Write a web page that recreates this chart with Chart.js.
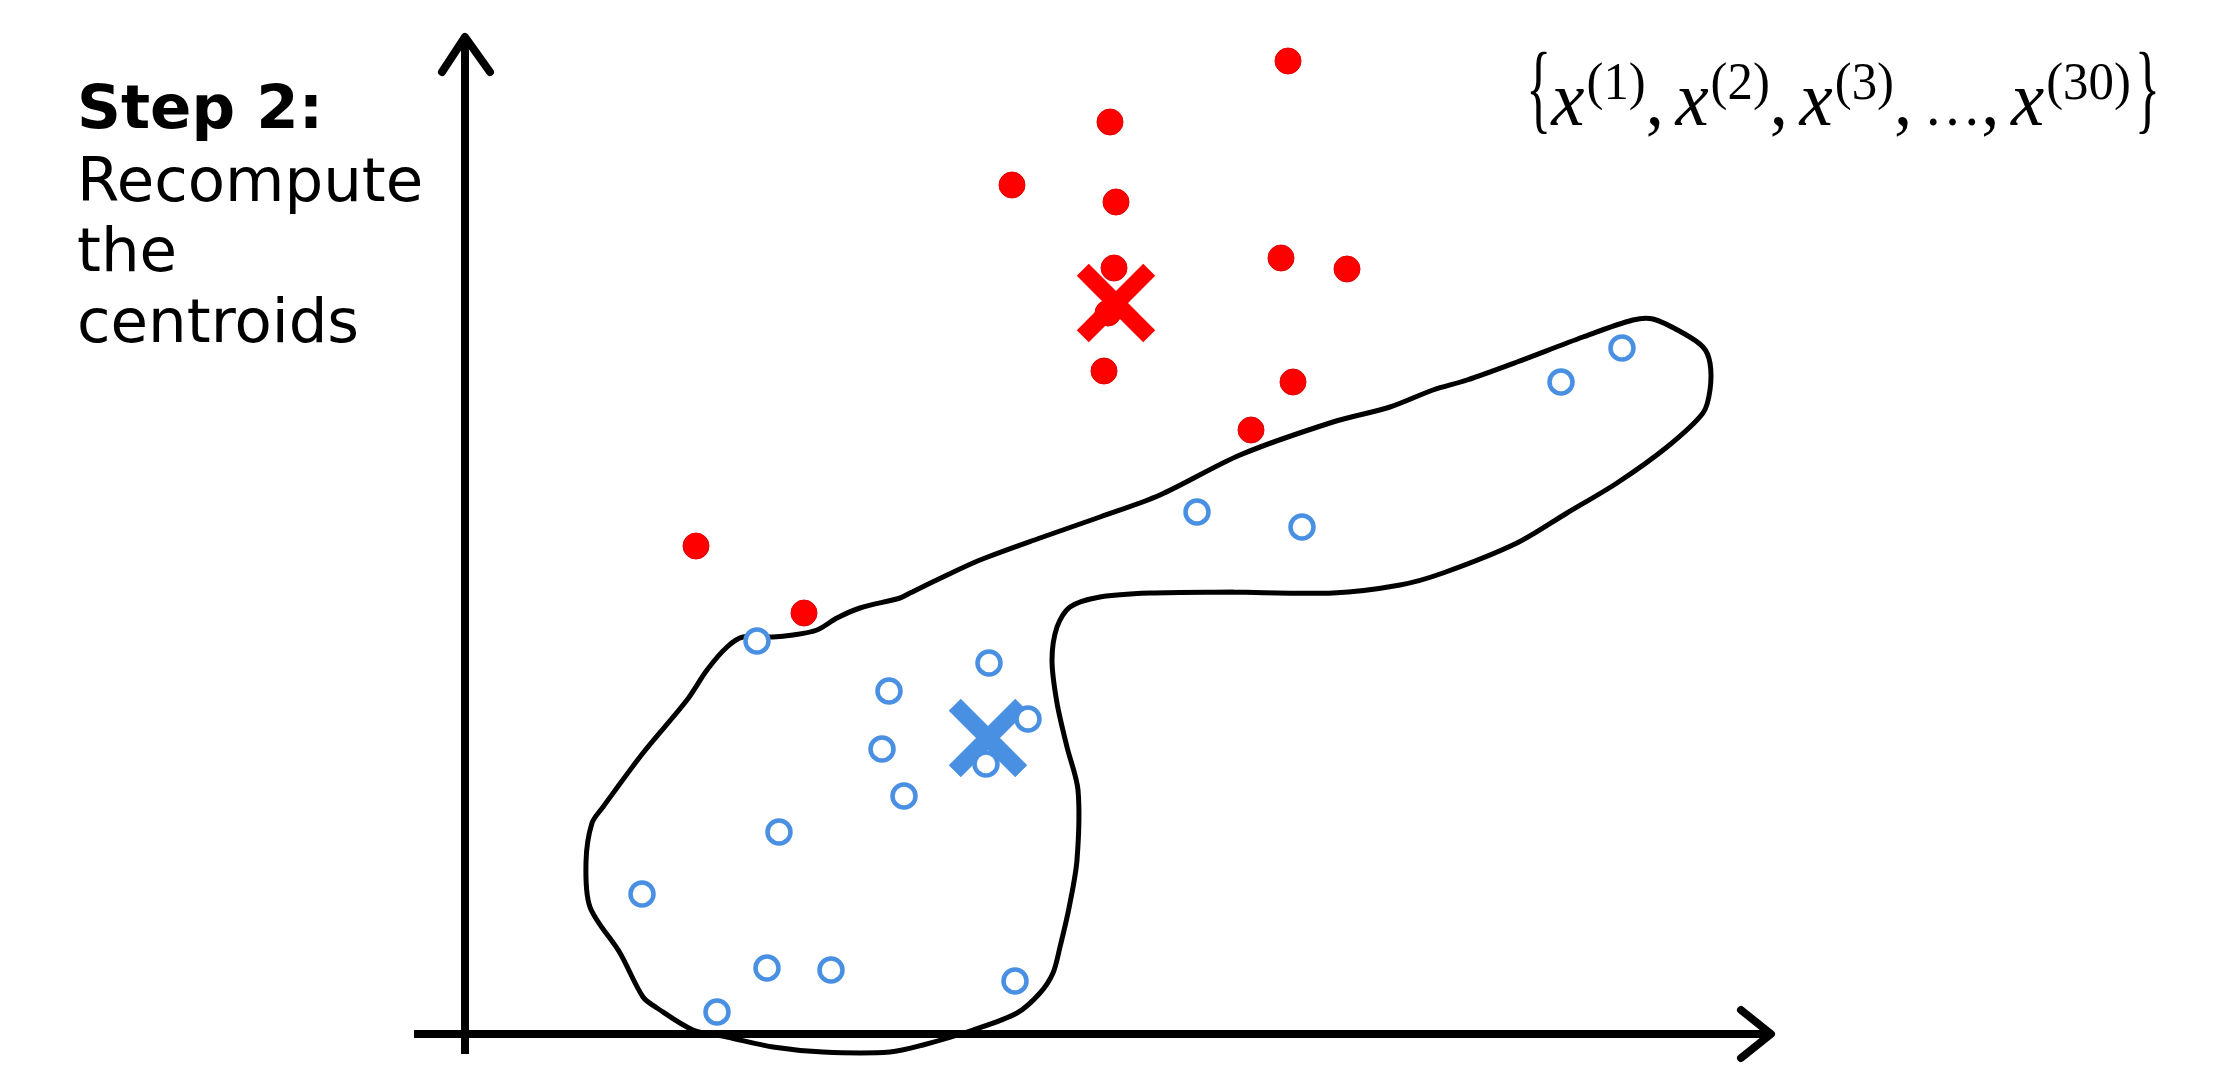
<!DOCTYPE html>
<html>
<head>
<meta charset="utf-8">
<title>K-means paso 2</title>
<script src="https://cdn.jsdelivr.net/npm/chart.js@4.4.0/dist/chart.umd.min.js"></script>
<style>
  body { margin: 0; background: #fff; }
  canvas { display: block; }
</style>
</head>
<body>
<canvas id="grafico" width="2240" height="1077"></canvas>
<script>
// puntos del grupo rojo (uno queda tapado por la X)
const rojoX = [8.23, 6.45, 5.47, 6.51, 6.49, 8.16, 8.82, 6.39, 8.28, 7.86, 2.31, 3.39, 6.43]
const rojoY = [9.73, 9.12, 8.49, 8.32, 7.66, 7.76, 7.65, 6.63, 6.52, 6.04, 4.88, 4.21, 7.21]

// puntos del grupo azul
const azulX = [11.57, 10.96, 7.32, 8.37, 2.92, 5.24, 4.24, 5.63, 4.17, 5.21, 4.39, 3.14, 1.77, 3.02, 3.66, 5.50, 2.52]
const azulY = [6.86, 6.52, 5.22, 5.07, 3.93, 3.71, 3.43, 3.15, 2.85, 2.70, 2.38, 2.02, 1.40, 0.66, 0.64, 0.53, 0.22]

// centroides
const centroRojo = [6.51, 7.31]
const centroAzul = [5.23, 2.96]

// contorno dibujado a mano alrededor del grupo azul (empieza y termina en el borde de abajo del brazo)
const contornoX = [7.68, 6.85, 6.35, 6.05, 5.92, 5.87, 5.92, 6.02, 6.13, 6.12, 6.04, 5.95, 5.88, 5.75, 5.52, 5.08, 4.58,
  4.25, 3.58, 3.08, 2.62, 2.28, 1.92, 1.78, 1.55, 1.25, 1.21, 1.27, 1.38, 1.78, 2.22, 2.42, 2.62, 2.78, 3.08, 3.28, 3.52,
  3.72, 3.95, 4.35, 4.45, 4.78, 5.15, 5.75, 6.35, 6.95, 7.75, 8.68, 9.25, 9.68, 10.02, 10.52, 11.18, 11.68, 11.88, 12.18,
  12.38, 12.45, 12.45, 12.38, 12.02, 11.52, 11.02, 10.52, 9.78, 9.35, 8.68, 7.68]
const contornoY = [4.42, 4.41, 4.37, 4.27, 4.07, 3.74, 3.31, 2.87, 2.44, 1.74, 1.26, 0.87, 0.61, 0.41, 0.21, 0.04, -0.11,
  -0.18, -0.18, -0.13, -0.03, 0.04, 0.26, 0.37, 0.81, 1.27, 1.72, 2.11, 2.27, 2.81, 3.34, 3.64, 3.87, 3.97, 3.97, 3.99, 4.04,
  4.16, 4.26, 4.36, 4.41, 4.57, 4.74, 4.96, 5.17, 5.39, 5.79, 6.12, 6.27, 6.44, 6.54, 6.72, 6.97, 7.14, 7.15, 7.01,
  6.87, 6.71, 6.44, 6.21, 5.87, 5.51, 5.21, 4.91, 4.61, 4.49, 4.41, 4.42]

// ejes con flechas
const ejeHorizontal = [-0.51, 13.06]
const ejeVertical = [-0.20, 9.97]
const flechaArribaX = [-0.23, 0, 0.25]
const flechaArribaY = [9.62, 9.97, 9.62]
const flechaDerechaX = [12.76, 13.06, 12.76]
const flechaDerechaY = [0.24, 0, -0.24]

const titulo = "Step 2:"
const lineasTexto = ["Recompute", "the", "centroids"]
const indices = ["(1)", "(2)", "(3)", "(30)"]

const rojo = "#ff0000"
const azul = "#4a90e2"

function juntar(xs, ys) {
  return xs.map((x, i) => ({ x: x, y: ys[i] }))
}

// estilos de cada pieza de la formula
const estilos = {
  llave: { font: "100px 'Liberation Serif'", base: 121, sx: 0.55 },
  var: { font: "italic 78px 'Liberation Serif'", base: 125, sx: 1 },
  sup: { font: "53px 'Liberation Serif'", base: 99, sx: 1 },
  coma: { font: "76px 'Liberation Serif'", base: 125, sx: 1 },
  puntos: { font: "60px 'Liberation Serif'", base: 125, sx: 1 }
}

function piezasFormula() {
  const p = [["llave", "{"]]
  indices.forEach((ind, i) => {
    if (i === indices.length - 1) {
      p.push(["puntos", "\u2026"], ["coma", ","], ["hueco", 12])
    }
    p.push(["var", "x"], ["hueco", 2], ["sup", ind])
    if (i < indices.length - 1) p.push(["coma", ","], ["hueco", 12])
  })
  p.push(["hueco", 4], ["llave", "}"])
  return p
}

const textos = {
  id: "textos",
  afterDraw(chart) {
    const ctx = chart.ctx
    ctx.save()
    ctx.fillStyle = "#000"
    ctx.textBaseline = "alphabetic"
    ctx.textAlign = "left"

    ctx.font = "bold 61px 'DejaVu Sans'"
    ctx.fillText(titulo, 77, 128)
    ctx.font = "61px 'DejaVu Sans'"
    const bases = [201, 271, 342]
    lineasTexto.forEach((t, i) => ctx.fillText(t, 77, bases[i]))

    // {x(1), x(2), x(3), ..., x(30)} ocupando de 1526 a 2160
    const piezas = piezasFormula()
    const ancho = (pz) => {
      if (pz[0] === "hueco") return pz[1]
      const e = estilos[pz[0]]
      ctx.font = e.font
      return ctx.measureText(pz[1]).width * e.sx
    }
    const total = piezas.reduce((s, pz) => s + ancho(pz), 0)
    const k = (2160 - 1526) / total
    ctx.translate(1526, 0)
    ctx.scale(k, 1)
    let cursor = 0
    piezas.forEach((pz) => {
      const w = ancho(pz)
      if (pz[0] !== "hueco") {
        const e = estilos[pz[0]]
        ctx.save()
        ctx.translate(cursor, e.base)
        ctx.scale(e.sx, 1)
        ctx.font = e.font
        ctx.fillText(pz[1], 0, 0)
        ctx.restore()
      }
      cursor += w
    })
    ctx.restore()
  }
}

const config = {
  type: "scatter",
  data: {
    datasets: [
      {
        data: juntar(azulX, azulY),
        pointStyle: "circle",
        pointRadius: 11.5,
        pointBorderWidth: 4.5,
        pointBackgroundColor: "#fff",
        pointBorderColor: azul
      },
      {
        data: [{ x: centroAzul[0], y: centroAzul[1] }],
        pointStyle: "crossRot",
        pointRadius: 47,
        pointBorderWidth: 17,
        pointBorderColor: azul
      },
      {
        data: [{ x: centroRojo[0], y: centroRojo[1] }],
        pointStyle: "crossRot",
        pointRadius: 47,
        pointBorderWidth: 17,
        pointBorderColor: rojo
      },
      {
        data: juntar(rojoX, rojoY),
        pointStyle: "circle",
        pointRadius: 13,
        pointBorderWidth: 1,
        pointBackgroundColor: rojo,
        pointBorderColor: "#e00000"
      },
      {
        data: juntar(contornoX, contornoY),
        showLine: true,
        pointRadius: 0,
        borderColor: "#000",
        borderWidth: 5,
        tension: 0.3,
        borderJoinStyle: "round",
        borderCapStyle: "round"
      },
      {
        data: juntar(ejeHorizontal, [0, 0]),
        showLine: true,
        pointRadius: 0,
        borderColor: "#000",
        borderWidth: 8
      },
      {
        data: juntar([0, 0], ejeVertical),
        showLine: true,
        pointRadius: 0,
        borderColor: "#000",
        borderWidth: 8
      },
      {
        data: juntar(flechaArribaX, flechaArribaY),
        showLine: true,
        pointRadius: 0,
        borderColor: "#000",
        borderWidth: 8,
        borderJoinStyle: "round",
        borderCapStyle: "round"
      },
      {
        data: juntar(flechaDerechaX, flechaDerechaY),
        showLine: true,
        pointRadius: 0,
        borderColor: "#000",
        borderWidth: 8,
        borderJoinStyle: "round",
        borderCapStyle: "round"
      }
    ]
  },
  options: {
    responsive: false,
    animation: false,
    devicePixelRatio: 1,
    layout: { padding: 0, autoPadding: false },
    plugins: {
      legend: { display: false },
      tooltip: { enabled: false }
    },
    scales: {
      x: { type: "linear", min: -4.65, max: 17.75, display: false },
      y: { type: "linear", min: -0.43, max: 10.34, display: false }
    }
  },
  plugins: [textos]
}

new Chart(document.getElementById("grafico"), config)
</script>
</body>
</html>
